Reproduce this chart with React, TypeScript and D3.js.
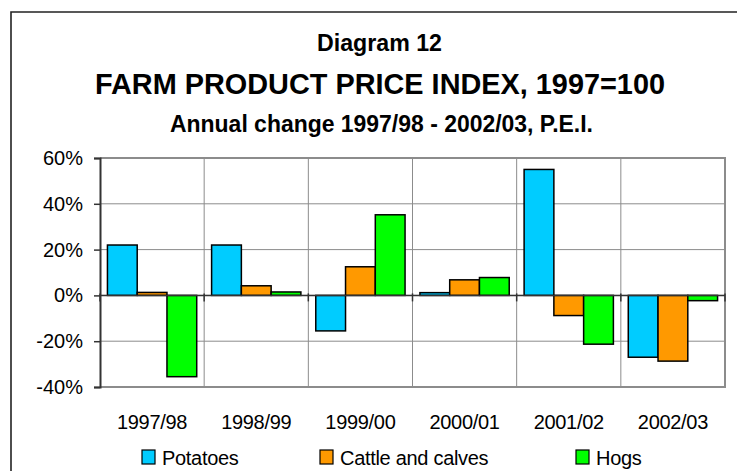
import React, { useEffect, useRef } from 'react';
import * as d3 from 'd3';

const years = ['1997/98', '1998/99', '1999/00', '2000/01', '2001/02', '2002/03'];
const seriesNames = ['Potatoes', 'Cattle and calves', 'Hogs'];
const seriesColors = ['#00CCFF', '#FF9900', '#00FF00'];
const potatoes = [22, 22, -15.5, 1.2, 55, -27];
const cattle = [1.3, 4.2, 12.5, 6.8, -8.8, -28.7];
const hogs = [-35.5, 1.5, 35.2, 7.8, -21.3, -2.3];
const yTicks = [60, 40, 20, 0, -20, -40];

const font = 'Arial, "Liberation Sans", sans-serif';

function App() {
  const ref = useRef<SVGSVGElement>(null);
  const width = 737;
  const height = 471;
  const left = 100, right = 725, top = 158, bottom = 387;

  useEffect(() => {
    const svg = d3.select(ref.current);
    svg.selectAll('*').remove();

    // outer chart border (right and bottom edges run off the picture)
    svg.append('path')
      .attr('d', `M11,${height + 5}V12H${width + 5}`)
      .attr('fill', 'none')
      .attr('stroke', '#222')
      .attr('stroke-width', 1.6);

    const titles = [
      { t: 'Diagram 12', x: 379.5, y: 51, size: 23, len: 125 },
      { t: 'FARM PRODUCT PRICE INDEX, 1997=100', x: 380, y: 94, size: 29, len: 570 },
      { t: 'Annual change 1997/98 - 2002/03, P.E.I.', x: 381.5, y: 132, size: 23, len: 423 },
    ];
    titles.forEach(d => {
      svg.append('text')
        .attr('x', d.x)
        .attr('y', d.y)
        .attr('text-anchor', 'middle')
        .attr('font-family', font)
        .attr('font-weight', 'bold')
        .attr('font-size', d.size)
        .attr('textLength', d.len)
        .attr('lengthAdjust', 'spacingAndGlyphs')
        .text(d.t);
    });

    const x0 = d3.scaleBand().domain(years).range([left, right]).paddingInner(0).paddingOuter(0);
    const x1 = d3.scaleBand().domain(seriesNames).range([0, x0.bandwidth()]).paddingInner(0).paddingOuter(0.25);
    const y = d3.scaleLinear().domain([-40, 60]).range([bottom, top]);

    // gridlines
    svg.append('g').selectAll('line.h')
      .data(yTicks)
      .join('line')
      .attr('x1', left).attr('x2', right)
      .attr('y1', d => y(d)).attr('y2', d => y(d))
      .attr('stroke', '#8c8c8c').attr('stroke-width', 1);
    svg.append('g').selectAll('line.v')
      .data(years.slice(1))
      .join('line')
      .attr('x1', d => x0(d)!).attr('x2', d => x0(d)!)
      .attr('y1', top).attr('y2', bottom)
      .attr('stroke', '#8c8c8c').attr('stroke-width', 1);

    // plot area border
    svg.append('path')
      .attr('d', `M${left},${top}H${right}V${bottom}H${left}`)
      .attr('fill', 'none')
      .attr('stroke', '#8c8c8c')
      .attr('stroke-width', 2);

    // y axis
    const yAxis = svg.append('g').attr('transform', `translate(${left},0)`)
      .call(d3.axisLeft(y).tickValues(yTicks).tickSize(6).tickPadding(11).tickFormat(d => `${d}%`));
    yAxis.select('.domain').attr('stroke', '#333').attr('stroke-width', 2);
    yAxis.selectAll('.tick line').attr('stroke', '#333').attr('stroke-width', 1.5);
    yAxis.selectAll('text').attr('font-family', font).attr('font-size', 20).attr('fill', '#000');

    // bars
    const data = [potatoes, cattle, hogs];
    years.forEach((yr, i) => {
      seriesNames.forEach((s, j) => {
        const v = data[j][i];
        svg.append('rect')
          .attr('x', x0(yr)! + x1(s)!)
          .attr('y', y(Math.max(0, v)))
          .attr('width', x1.bandwidth())
          .attr('height', Math.abs(y(v) - y(0)))
          .attr('fill', seriesColors[j])
          .attr('stroke', '#000')
          .attr('stroke-width', 1.5);
      });
    });

    // zero axis with category ticks
    svg.append('line')
      .attr('x1', left).attr('x2', right)
      .attr('y1', y(0)).attr('y2', y(0))
      .attr('stroke', '#333').attr('stroke-width', 1.5);
    svg.append('g').selectAll('line')
      .data(years.concat(['end']))
      .join('line')
      .attr('x1', (d, i) => left + i * x0.bandwidth())
      .attr('x2', (d, i) => left + i * x0.bandwidth())
      .attr('y1', y(0) - 2).attr('y2', y(0) + 6)
      .attr('stroke', '#333').attr('stroke-width', 1.5);

    // category labels
    svg.append('g').selectAll('text')
      .data(years)
      .join('text')
      .attr('x', d => x0(d)! + x0.bandwidth() / 2)
      .attr('y', 429)
      .attr('text-anchor', 'middle')
      .attr('font-family', font)
      .attr('font-size', 20)
      .attr('letter-spacing', -0.3)
      .text(d => d);

    // legend
    const legendX = [142, 320, 576];
    seriesNames.forEach((s, j) => {
      svg.append('rect')
        .attr('x', legendX[j]).attr('y', 450)
        .attr('width', 13).attr('height', 14)
        .attr('fill', seriesColors[j])
        .attr('stroke', '#000').attr('stroke-width', 1.2);
      svg.append('text')
        .attr('x', legendX[j] + 20).attr('y', 465)
        .attr('font-family', font)
        .attr('font-size', 20)
        .attr('letter-spacing', -0.3)
        .text(s);
    });
  }, []);

  return (
    <svg ref={ref} width={width} height={height}
      style={{ position: 'absolute', left: 0, top: 0, background: '#fff' }} />
  );
}

export default App;
